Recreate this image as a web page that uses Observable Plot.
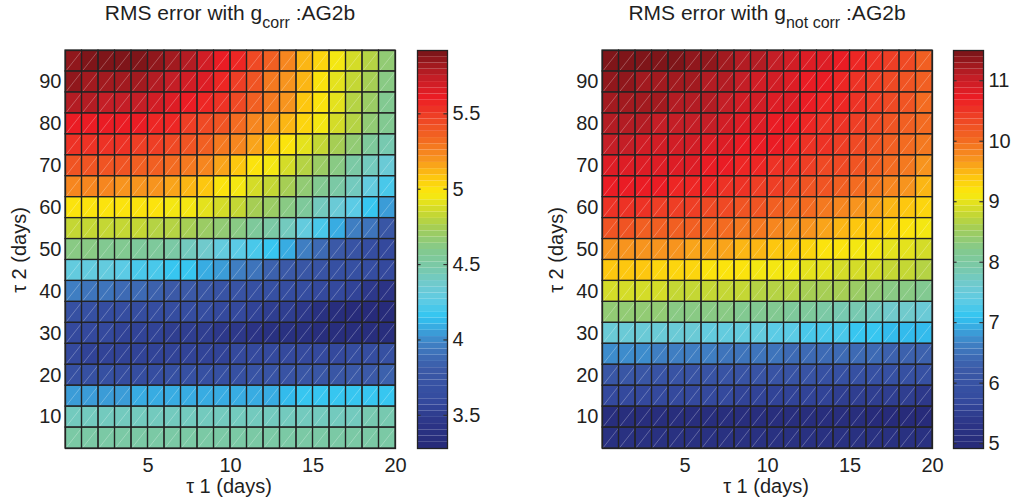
<!DOCTYPE html>
<html><head><meta charset="utf-8">
<script src="https://cdn.jsdelivr.net/npm/d3@7"></script>
<script src="https://cdn.jsdelivr.net/npm/@observablehq/plot@0.6"></script>
<style>
body{margin:0;background:#fff;}
#wrap{position:relative;width:1014px;height:503px;font-family:"Liberation Sans",Arial,Helvetica,sans-serif;color:#1f1f1f;overflow:hidden;}
.title{position:absolute;top:1px;font-size:21px;white-space:nowrap;transform:translateX(-50%);}
.title sub{font-size:16px;vertical-align:-8px;line-height:0;}
.xlab{position:absolute;top:475px;font-size:20px;line-height:22px;white-space:nowrap;transform:translateX(-50%);}
.ylab{position:absolute;font-size:20px;line-height:22px;white-space:nowrap;transform:translate(-50%,-50%) rotate(-90deg);}
.chart{position:absolute;top:0;}
</style></head><body><div id="wrap"></div>
<script>
const tau1 = [1,2,3,4,5,6,7,8,9,10,11,12,13,14,15,16,17,18,19,20];
const tau2 = [95,90,85,80,75,70,65,60,55,50,45,40,35,30,25,20,15,10,5];

const rmsCorr = [
 [5.87,5.89,5.90,5.90,5.88,5.86,5.82,5.78,5.70,5.62,5.55,5.45,5.36,5.24,5.13,5.04,4.95,4.86,4.78,4.65],
 [5.84,5.83,5.82,5.82,5.80,5.78,5.74,5.70,5.64,5.58,5.50,5.40,5.30,5.20,5.10,4.98,4.92,4.82,4.74,4.62],
 [5.76,5.76,5.75,5.74,5.72,5.70,5.66,5.62,5.58,5.52,5.45,5.37,5.28,5.18,5.08,5.00,4.90,4.80,4.72,4.58],
 [5.62,5.62,5.62,5.61,5.60,5.58,5.55,5.50,5.45,5.40,5.33,5.25,5.18,5.10,5.02,4.94,4.86,4.77,4.67,4.56],
 [5.52,5.52,5.52,5.51,5.50,5.48,5.45,5.40,5.35,5.29,5.22,5.14,5.06,4.99,4.92,4.84,4.76,4.66,4.55,4.45],
 [5.40,5.40,5.40,5.39,5.38,5.36,5.32,5.28,5.22,5.15,5.08,4.99,4.93,4.86,4.78,4.70,4.60,4.50,4.42,4.32],
 [5.22,5.22,5.22,5.21,5.20,5.18,5.15,5.11,5.06,4.99,4.94,4.88,4.82,4.75,4.66,4.58,4.48,4.40,4.30,4.20],
 [5.00,5.00,5.00,4.99,4.99,4.98,4.96,4.93,4.90,4.86,4.82,4.76,4.70,4.62,4.52,4.43,4.33,4.23,4.15,4.04],
 [4.84,4.84,4.83,4.82,4.81,4.80,4.78,4.76,4.72,4.68,4.62,4.55,4.48,4.40,4.30,4.21,4.10,3.96,3.90,3.76],
 [4.60,4.60,4.58,4.58,4.55,4.54,4.48,4.42,4.36,4.30,4.26,4.22,4.15,4.08,3.98,3.88,3.78,3.70,3.64,3.58],
 [4.27,4.27,4.27,4.26,4.22,4.20,4.15,4.15,4.09,4.03,3.97,3.92,3.85,3.80,3.76,3.72,3.68,3.66,3.62,3.58],
 [3.94,3.93,3.90,3.88,3.86,3.84,3.80,3.78,3.74,3.72,3.70,3.68,3.66,3.64,3.62,3.60,3.57,3.54,3.48,3.42],
 [3.66,3.66,3.65,3.64,3.64,3.63,3.62,3.62,3.61,3.60,3.58,3.56,3.52,3.50,3.45,3.40,3.36,3.32,3.30,3.29],
 [3.60,3.58,3.57,3.56,3.55,3.54,3.52,3.50,3.49,3.47,3.45,3.42,3.38,3.38,3.37,3.36,3.34,3.33,3.34,3.36],
 [3.58,3.56,3.55,3.55,3.55,3.55,3.56,3.56,3.56,3.56,3.57,3.57,3.57,3.58,3.58,3.59,3.60,3.62,3.64,3.66],
 [3.68,3.67,3.66,3.65,3.65,3.65,3.66,3.66,3.67,3.68,3.69,3.70,3.72,3.73,3.74,3.75,3.76,3.78,3.79,3.82],
 [4.06,4.04,4.04,4.03,4.10,4.10,4.10,4.10,4.10,4.10,4.10,4.10,4.10,4.14,4.15,4.15,4.15,4.15,4.15,4.16],
 [4.40,4.40,4.40,4.40,4.40,4.40,4.40,4.40,4.40,4.41,4.41,4.41,4.42,4.42,4.42,4.43,4.43,4.43,4.44,4.44],
 [4.48,4.48,4.48,4.48,4.48,4.48,4.48,4.48,4.48,4.48,4.48,4.48,4.49,4.49,4.49,4.49,4.49,4.50,4.50,4.50]
];

const rmsNotCorr = [
 [11.40,11.42,11.45,11.45,11.40,11.38,11.35,11.25,11.18,11.10,11.02,10.95,10.88,10.80,10.72,10.62,10.52,10.42,10.30,10.15],
 [11.30,11.30,11.28,11.28,11.25,11.22,11.18,11.10,11.03,10.98,10.92,10.85,10.78,10.72,10.65,10.56,10.46,10.36,10.25,10.10],
 [11.22,11.22,11.20,11.20,11.17,11.14,11.10,11.04,10.98,10.92,10.86,10.80,10.72,10.66,10.58,10.50,10.42,10.32,10.20,10.05],
 [11.12,11.12,11.10,11.08,11.06,11.04,10.99,10.94,10.88,10.82,10.76,10.70,10.64,10.57,10.50,10.42,10.33,10.24,10.12,9.98],
 [11.00,11.00,10.98,10.96,10.94,10.90,10.86,10.82,10.76,10.72,10.68,10.62,10.55,10.48,10.40,10.32,10.24,10.14,10.02,9.90],
 [10.86,10.86,10.85,10.84,10.82,10.80,10.76,10.72,10.66,10.60,10.55,10.48,10.42,10.35,10.27,10.18,10.08,9.98,9.86,9.75],
 [10.72,10.72,10.70,10.68,10.66,10.63,10.60,10.56,10.50,10.44,10.38,10.32,10.25,10.17,10.08,9.98,9.88,9.78,9.66,9.54],
 [10.50,10.50,10.48,10.46,10.44,10.40,10.36,10.32,10.26,10.20,10.14,10.06,9.98,9.90,9.80,9.70,9.60,9.50,9.40,9.30],
 [10.18,10.18,10.16,10.14,10.12,10.08,10.04,10.00,9.94,9.88,9.82,9.74,9.66,9.58,9.50,9.42,9.35,9.28,9.20,9.12],
 [9.72,9.72,9.70,9.68,9.66,9.64,9.60,9.56,9.50,9.46,9.40,9.36,9.30,9.20,9.14,9.10,9.04,8.98,8.94,8.86],
 [9.40,9.38,9.36,9.34,9.26,9.24,9.20,9.16,9.14,9.12,9.08,9.04,9.00,8.96,8.92,8.88,8.84,8.80,8.76,8.70],
 [8.92,8.90,8.86,8.84,8.82,8.80,8.80,8.78,8.74,8.72,8.68,8.64,8.62,8.58,8.52,8.48,8.38,8.30,8.26,8.18],
 [8.40,8.38,8.36,8.34,8.30,8.28,8.26,8.24,8.20,8.18,8.14,8.08,8.02,7.96,7.90,7.82,7.76,7.66,7.60,7.50],
 [7.55,7.54,7.54,7.53,7.52,7.52,7.46,7.44,7.42,7.40,7.38,7.34,7.28,7.24,7.20,7.08,7.08,7.02,7.00,7.02],
 [6.72,6.70,6.68,6.66,6.66,6.64,6.58,6.56,6.54,6.52,6.48,6.46,6.44,6.42,6.40,6.38,6.36,6.34,6.34,6.32],
 [6.10,6.08,6.06,6.04,6.04,6.02,6.02,6.00,6.00,5.98,5.98,5.96,5.96,5.94,5.94,5.92,5.92,5.90,5.90,5.90],
 [5.72,5.70,5.68,5.68,5.66,5.66,5.64,5.64,5.62,5.60,5.58,5.56,5.55,5.54,5.52,5.50,5.48,5.46,5.44,5.42],
 [5.10,5.08,5.06,5.06,5.06,5.06,5.05,5.05,5.04,5.04,5.04,5.04,5.04,5.04,5.03,5.03,5.02,5.02,5.02,5.02],
 [5.22,5.22,5.21,5.21,5.21,5.20,5.20,5.20,5.20,5.20,5.19,5.19,5.19,5.19,5.19,5.18,5.18,5.18,5.18,5.18]
];

// colour limits of each colour bar and their tick values
const corrLimits = [3.28, 5.92];
const corrTicks = [3.5, 4, 4.5, 5, 5.5];
const notCorrLimits = [4.92, 11.5];
const notCorrTicks = [5, 6, 7, 8, 9, 10, 11];
const xTicks = [5, 10, 15, 20];
const yTicks = [10, 20, 30, 40, 50, 60, 70, 80, 90];

// colormap stops (fraction of colour range -> colour)
const cmapPos = [0, 0.06, 0.12, 0.20, 0.26, 0.30, 0.33, 0.37, 0.41, 0.45, 0.50, 0.55, 0.59, 0.64, 0.68, 0.72, 0.78, 0.84, 0.88, 0.93, 1];
const cmapCol = ["#262a78","#2b3486","#344a9e","#3b5aa8","#3f7fc3","#3aa7df","#30c5f2","#5ecbe4","#6fcad0","#78c9ac","#84c98c","#a2cd59","#c8d830","#fbea0d","#fdc70f","#f89a1d","#f26522","#ee3b25","#ec1c24","#c41e26","#761417"];
const NLEV = 64;

const FONT = '"Liberation Sans", Arial, Helvetica, sans-serif';
const interp = d3.scaleLinear().domain(cmapPos).range(cmapCol).interpolate(d3.interpolateRgb);

function colorScale([lo, hi]) {
  const step = (hi - lo) / NLEV;
  return {
    type: "threshold",
    domain: d3.range(1, NLEV).map(i => lo + i * step),
    range: d3.range(NLEV).map(i => interp((i + 0.5) / NLEV))
  };
}

function heat(values, limits) {
  const data = [];
  tau2.forEach((t2, r) => tau1.forEach((t1, c) => data.push({t1, t2, v: values[r][c]})));
  const cell = {x1: d => d.t1 - 1, x2: d => d.t1, y1: d => d.t2 - 2.5, y2: d => d.t2 + 2.5};
  return Plot.plot({
    width: 410, height: 503,
    marginLeft: 65, marginRight: 15, marginTop: 50, marginBottom: 55,
    style: {fontFamily: FONT, fontSize: "20px", color: "#1f1f1f", background: "transparent", overflow: "visible"},
    x: {domain: [0, 20]},
    y: {domain: [2.5, 97.5]},
    color: colorScale(limits),
    marks: [
      Plot.rect(data, {...cell, fill: "v"}),
      Plot.link(data, {x1: cell.x1, y1: cell.y1, x2: cell.x2, y2: cell.y2, stroke: "white", strokeOpacity: 0.45, strokeWidth: 0.6}),
      Plot.rect(data, {...cell, fill: "none", stroke: "#232323", strokeWidth: 1.2}),
      Plot.frame({stroke: "#232323", strokeWidth: 1.3}),
      Plot.axisX({ticks: xTicks, tickSize: 0, tickPadding: 9, fontSize: 20, label: null, tickFormat: d => String(d)}),
      Plot.axisY({ticks: yTicks, tickSize: 0, tickPadding: 4, fontSize: 20, label: null, tickFormat: d => String(d)})
    ]
  });
}

function colorbar(limits, ticks) {
  const [lo, hi] = limits;
  const step = (hi - lo) / NLEV;
  const bands = d3.range(NLEV).map(i => ({a: lo + i * step, b: lo + (i + 1) * step}));
  return Plot.plot({
    width: 80, height: 503,
    marginLeft: 1, marginRight: 49, marginTop: 50, marginBottom: 55,
    style: {fontFamily: FONT, fontSize: "20px", color: "#1f1f1f", background: "transparent", overflow: "visible"},
    x: {domain: [0, 1], axis: null},
    y: {domain: [lo, hi], axis: null},
    color: colorScale(limits),
    marks: [
      Plot.rect(bands, {x1: 0, x2: 1, y1: "a", y2: "b", fill: d => (d.a + d.b) / 2}),
      Plot.ruleY(ticks, {x1: 0, x2: 0.12, stroke: "#333", strokeWidth: 1.2}),
      Plot.ruleY(ticks, {x1: 0.88, x2: 1, stroke: "#333", strokeWidth: 1.2}),
      Plot.frame({stroke: "#232323", strokeWidth: 1.3}),
      Plot.axisY({anchor: "right", ticks, tickSize: 0, tickPadding: 5, fontSize: 20, label: null, tickFormat: d => String(d)})
    ]
  });
}

const wrap = document.getElementById("wrap");
function place(el, left) { el.classList.add("chart"); el.style.left = left + "px"; wrap.appendChild(el); }

place(heat(rmsCorr, corrLimits), 0);
place(colorbar(corrLimits, corrTicks), 416);
place(heat(rmsNotCorr, notCorrLimits), 537);
place(colorbar(notCorrLimits, notCorrTicks), 952);

function addDiv(cls, html, left, top) {
  const d = document.createElement("div");
  d.className = cls; d.innerHTML = html; d.style.left = left + "px";
  if (top !== undefined) d.style.top = top + "px";
  wrap.appendChild(d);
}
addDiv("title", "RMS error with g<sub>corr</sub> :AG2b", 230);
addDiv("title", "RMS error with g<sub>not corr</sub> :AG2b", 767);
addDiv("xlab", "τ 1 (days)", 229);
addDiv("xlab", "τ 1 (days)", 766);
addDiv("ylab", "τ 2 (days)", 19, 250);
addDiv("ylab", "τ 2 (days)", 556, 250);
</script></body></html>
